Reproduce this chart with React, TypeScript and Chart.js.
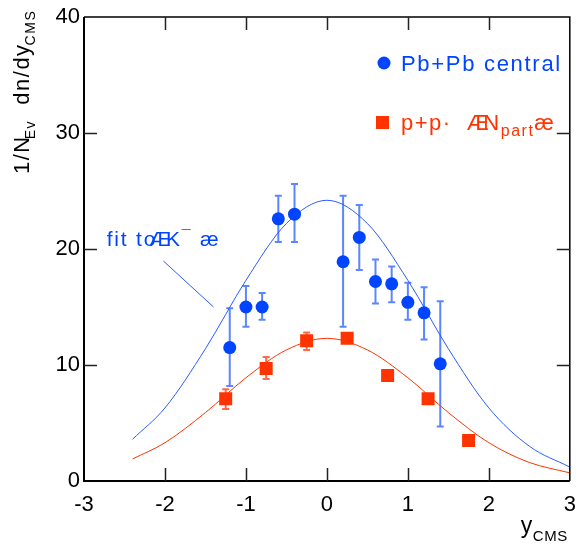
import React, { useEffect, useRef } from "react";
import { Chart, registerables } from "chart.js";
Chart.register(...registerables);

// ---- data ----
const pbX = [-1.2, -1.0, -0.8, -0.6, -0.4, 0.2, 0.4, 0.6, 0.8, 1.0, 1.2, 1.4];
const pbY = [11.5, 15.0, 15.0, 22.6, 23.0, 18.9, 21.0, 17.2, 17.0, 15.4, 14.5, 10.1];
const pbHi = [14.9, 16.8, 16.2, 24.6, 25.6, 24.6, 23.8, 19.1, 18.5, 17.1, 16.7, 15.5];
const pbLo = [8.2, 13.3, 13.9, 20.6, 20.6, 13.3, 18.2, 15.3, 15.4, 13.9, 12.2, 4.7];

const ppX = [-1.25, -0.75, -0.25, 0.25, 0.75, 1.25, 1.75];
const ppY = [7.1, 9.7, 12.1, 12.3, 9.1, 7.1, 3.5];
const ppHi = [7.9, 10.7, 12.8, null, null, null, null];
const ppLo = [6.2, 8.8, 11.3, null, null, null, null];

const fitX = [-2.4, -2.0, -1.5, -1.0, -0.5, 0, 0.5, 1.0, 1.5, 2.0, 2.5, 3.0];
const pbFit = [3.6, 6.3, 11.4, 17.3, 22.2, 24.2, 22.2, 17.3, 11.4, 6.3, 3.0, 1.2];
const ppFit = [1.9, 3.3, 5.9, 8.9, 11.3, 12.3, 11.3, 8.9, 5.9, 3.3, 1.6, 0.7];

const xTicks = [-3, -2, -1, 0, 1, 2, 3];
const yTicks = [0, 10, 20, 30, 40];

const BLUE = "#0044ff";
const BLUE_ERR = "#5c86ff";
const BLUE_FIT = "#2a5cff";
const RED = "#ff3300";
const RED_ERR = "#ff6a4a";
const FONT = "'Liberation Sans', Arial, sans-serif";

type Part = { t: string; size: number; dy?: number; dx?: number };

function drawRich(ctx: CanvasRenderingContext2D, x: number, y: number, parts: Part[], spacing = 0) {
  let cx = x;
  (ctx as any).letterSpacing = `${spacing}px`;
  for (const p of parts) {
    ctx.font = `${p.size}px ${FONT}`;
    cx += p.dx || 0;
    ctx.fillText(p.t, cx, y + (p.dy || 0));
    cx += ctx.measureText(p.t).width;
  }
  (ctx as any).letterSpacing = "0px";
}

const decorPlugin = {
  id: "decor",
  beforeDatasetsDraw(chart: any) {
    const ctx = chart.ctx as CanvasRenderingContext2D;
    const xs = chart.scales.x;
    const ys = chart.scales.y;
    const bars = (xv: number[], hi: any[], lo: any[], color: string, cap: number) => {
      ctx.save();
      ctx.strokeStyle = color;
      ctx.lineWidth = 2;
      for (let i = 0; i < xv.length; i++) {
        if (hi[i] == null || lo[i] == null) continue;
        const px = xs.getPixelForValue(xv[i]);
        const ph = ys.getPixelForValue(hi[i]);
        const pl = ys.getPixelForValue(lo[i]);
        ctx.beginPath();
        ctx.moveTo(px, ph);
        ctx.lineTo(px, pl);
        ctx.moveTo(px - cap, ph);
        ctx.lineTo(px + cap, ph);
        ctx.moveTo(px - cap, pl);
        ctx.lineTo(px + cap, pl);
        ctx.stroke();
      }
      ctx.restore();
    };
    bars(pbX, pbHi, pbLo, BLUE_ERR, 3.5);
    bars(ppX, ppHi, ppLo, RED_ERR, 3.5);
  },
  afterDraw(chart: any) {
    const ctx = chart.ctx as CanvasRenderingContext2D;
    const a = chart.chartArea;
    const xs = chart.scales.x;
    const ys = chart.scales.y;
    ctx.save();
    // frame
    ctx.strokeStyle = "#000";
    ctx.lineWidth = 2;
    ctx.beginPath();
    ctx.moveTo(a.left, a.top);
    ctx.lineTo(a.left, a.bottom);
    ctx.lineTo(a.right, a.bottom);
    ctx.stroke();
    ctx.lineWidth = 1.5;
    ctx.beginPath();
    ctx.moveTo(a.left, a.top);
    ctx.lineTo(a.right, a.top);
    ctx.lineTo(a.right, a.bottom);
    ctx.stroke();
    // inward ticks
    ctx.strokeStyle = "#222";
    ctx.lineWidth = 1.5;
    const TL = 13;
    ctx.beginPath();
    for (const v of xTicks.slice(1, -1)) {
      const px = Math.round(xs.getPixelForValue(v)) + 0.5;
      ctx.moveTo(px, a.bottom);
      ctx.lineTo(px, a.bottom - TL);
      ctx.moveTo(px, a.top);
      ctx.lineTo(px, a.top + TL);
    }
    for (const v of yTicks.slice(1, -1)) {
      const py = Math.round(ys.getPixelForValue(v)) + 0.5;
      ctx.moveTo(a.left, py);
      ctx.lineTo(a.left + TL, py);
      ctx.moveTo(a.right, py);
      ctx.lineTo(a.right - TL, py);
    }
    ctx.stroke();

    // legend
    ctx.textBaseline = "alphabetic";
    ctx.textAlign = "left";
    ctx.fillStyle = BLUE;
    ctx.beginPath();
    ctx.arc(a.left + 300, a.top + 46, 6.5, 0, Math.PI * 2);
    ctx.fill();
    drawRich(ctx, a.left + 317, a.top + 54, [{ t: "Pb+Pb central", size: 22 }], 1.7);
    ctx.fillStyle = RED;
    ctx.fillRect(a.left + 292, a.top + 99, 13, 13);
    drawRich(
      ctx,
      a.left + 317,
      a.top + 113,
      [
        { t: "p+p·  ", size: 22 },
        { t: "Æ", size: 22 },
        { t: "N", size: 22, dx: -7 },
        { t: "part", size: 16, dy: 6 },
        { t: "æ", size: 22 },
      ],
      1.5
    );

    // fit annotation
    ctx.fillStyle = BLUE;
    drawRich(
      ctx,
      xs.getPixelForValue(-2.72),
      ys.getPixelForValue(20.3),
      [
        { t: "fit to", size: 21 },
        { t: "Æ", size: 21, dx: -8 },
        { t: "K", size: 21, dx: -6 },
        { t: "¯", size: 16, dy: -4 },
        { t: " æ", size: 21 },
      ],
      1.8
    );
    ctx.strokeStyle = BLUE_FIT;
    ctx.lineWidth = 1;
    ctx.beginPath();
    ctx.moveTo(xs.getPixelForValue(-2.02), ys.getPixelForValue(18.97));
    ctx.lineTo(xs.getPixelForValue(-1.4), ys.getPixelForValue(15.0));
    ctx.stroke();

    // axis titles
    ctx.fillStyle = "#000";
    drawRich(
      ctx,
      a.right - 49,
      a.bottom + 52,
      [
        { t: "y", size: 23 },
        { t: "CMS", size: 15, dy: 8 },
      ],
      0.5
    );
    ctx.save();
    ctx.translate(29, 174);
    ctx.rotate(-Math.PI / 2);
    drawRich(
      ctx,
      0,
      0,
      [
        { t: "1/N", size: 22 },
        { t: "Ev", size: 14, dy: 6, dx: -4 },
        { t: "  dn/dy", size: 22 },
        { t: "CMS", size: 14, dy: 6, dx: -2 },
      ],
      1.5
    );
    ctx.restore();
    ctx.restore();
  },
};

export default function App() {
  const ref = useRef<HTMLCanvasElement>(null);
  useEffect(() => {
    if (!ref.current) return;
    const chart = new Chart(ref.current, {
      type: "scatter",
      data: {
        datasets: [
          {
            label: "Pb+Pb central",
            data: pbX.map((x, i) => ({ x, y: pbY[i] })),
            backgroundColor: BLUE,
            borderColor: BLUE,
            pointRadius: 6.5,
            pointStyle: "circle",
            borderWidth: 0,
            order: 0,
          },
          {
            label: "p+p",
            data: ppX.map((x, i) => ({ x, y: ppY[i] })),
            backgroundColor: RED,
            borderColor: RED,
            pointRadius: 9.2,
            pointStyle: "rect",
            borderWidth: 0,
            order: 0,
          },
          {
            label: "fit PbPb",
            type: "line",
            data: fitX.map((x, i) => ({ x, y: pbFit[i] })),
            borderColor: BLUE_FIT,
            borderWidth: 1,
            pointRadius: 0,
            cubicInterpolationMode: "monotone",
            fill: false,
            order: 2,
          } as any,
          {
            label: "fit pp",
            type: "line",
            data: fitX.map((x, i) => ({ x, y: ppFit[i] })),
            borderColor: RED,
            borderWidth: 1,
            pointRadius: 0,
            cubicInterpolationMode: "monotone",
            fill: false,
            order: 2,
          } as any,
        ],
      },
      options: {
        responsive: false,
        animation: false,
        layout: { padding: { top: 17, right: 8, left: 0, bottom: 0 } },
        plugins: { legend: { display: false }, tooltip: { enabled: false } },
        scales: {
          x: {
            type: "linear",
            min: -3,
            max: 3,
            afterFit: (s: any) => {
              s.height = 67;
              s.paddingLeft = 0;
              s.paddingRight = 0;
            },
            afterBuildTicks: (s: any) => {
              s.ticks = xTicks.map((v) => ({ value: v }));
            },
            grid: { display: false, drawTicks: false },
            border: { display: false },
            ticks: {
              padding: 11,
              color: "#000",
              font: { family: FONT, size: 22 },
              maxRotation: 0,
            },
          },
          y: {
            type: "linear",
            min: 0,
            max: 40,
            afterFit: (s: any) => {
              s.width = 84;
              s.paddingTop = 0;
              s.paddingBottom = 0;
            },
            afterBuildTicks: (s: any) => {
              s.ticks = yTicks.map((v) => ({ value: v }));
            },
            grid: { display: false, drawTicks: false },
            border: { display: false },
            ticks: {
              padding: 4,
              color: "#000",
              font: { family: FONT, size: 22 },
            },
          },
        },
      },
      plugins: [decorPlugin],
    });
    return () => chart.destroy();
  }, []);
  return (
    <canvas
      ref={ref}
      width={579}
      height={548}
      style={{ position: "absolute", left: 0, top: 0, display: "block" }}
    />
  );
}
